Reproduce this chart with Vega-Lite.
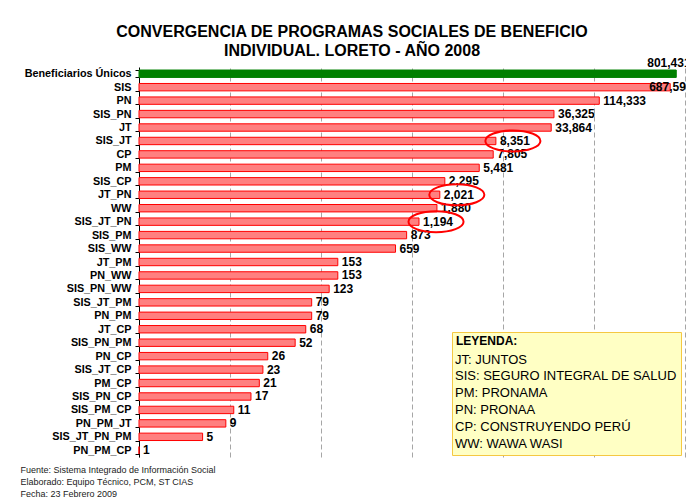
{
  "$schema": "https://vega.github.io/schema/vega-lite/v6.json",
  "width": 546,
  "height": 390,
  "autosize": {"type": "none"},
  "padding": {"left": 139, "top": 67, "right": 1, "bottom": 45},
  "background": "white",
  "config": {"font": "Liberation Sans", "view": {"stroke": null}},
  "title": {
    "text": ["CONVERGENCIA DE PROGRAMAS SOCIALES DE BENEFICIO", "INDIVIDUAL. LORETO - AÑO 2008"],
    "fontSize": 16,
    "fontWeight": "bold",
    "lineHeight": 19,
    "anchor": "middle",
    "frame": "group",
    "dx": -60,
    "offset": -2,
    "color": "#000000"
  },
  "data": {
    "values": [
      {"programa": "Beneficiarios Únicos", "beneficiarios": 801431},
      {"programa": "SIS", "beneficiarios": 687592},
      {"programa": "PN", "beneficiarios": 114333},
      {"programa": "SIS_PN", "beneficiarios": 36325},
      {"programa": "JT", "beneficiarios": 33864},
      {"programa": "SIS_JT", "beneficiarios": 8351},
      {"programa": "CP", "beneficiarios": 7805},
      {"programa": "PM", "beneficiarios": 5481},
      {"programa": "SIS_CP", "beneficiarios": 2295},
      {"programa": "JT_PN", "beneficiarios": 2021},
      {"programa": "WW", "beneficiarios": 1880},
      {"programa": "SIS_JT_PN", "beneficiarios": 1194},
      {"programa": "SIS_PM", "beneficiarios": 873},
      {"programa": "SIS_WW", "beneficiarios": 659},
      {"programa": "JT_PM", "beneficiarios": 153},
      {"programa": "PN_WW", "beneficiarios": 153},
      {"programa": "SIS_PN_WW", "beneficiarios": 123},
      {"programa": "SIS_JT_PM", "beneficiarios": 79},
      {"programa": "PN_PM", "beneficiarios": 79},
      {"programa": "JT_CP", "beneficiarios": 68},
      {"programa": "SIS_PN_PM", "beneficiarios": 52},
      {"programa": "PN_CP", "beneficiarios": 26},
      {"programa": "SIS_JT_CP", "beneficiarios": 23},
      {"programa": "PM_CP", "beneficiarios": 21},
      {"programa": "SIS_PN_CP", "beneficiarios": 17},
      {"programa": "SIS_PM_CP", "beneficiarios": 11},
      {"programa": "PN_PM_JT", "beneficiarios": 9},
      {"programa": "SIS_JT_PN_PM", "beneficiarios": 5},
      {"programa": "PN_PM_CP", "beneficiarios": 1}
    ]
  },
  "layer": [
    {
      "mark": {"type": "bar", "strokeWidth": 1},
      "encoding": {
        "y": {
          "field": "programa", "type": "nominal", "sort": null,
          "scale": {"paddingInner": 0.45, "paddingOuter": 0.225},
          "axis": {
            "title": null, "labelFontSize": 10.8, "labelFontWeight": "bold", "labelColor": "#000000",
            "domainColor": "#000000", "tickColor": "#000000", "tickSize": 4, "tickBand": "extent",
            "labelPadding": 4, "grid": false, "labelLimit": 200
          }
        },
        "x": {
          "field": "beneficiarios", "type": "quantitative",
          "scale": {"type": "log", "domain": [1, 1000000], "nice": false},
          "axis": {
            "title": ["Fuente: Sistema Integrado de Información Social", "Elaborado: Equipo Técnico, PCM, ST CIAS", "Fecha: 23 Febrero 2009"],
            "labels": false, "ticks": false, "domain": false,
            "grid": true, "gridColor": "#A6A6A6", "gridDash": [5, 3], "gridWidth": 1,
            "values": [1, 10, 100, 1000, 10000, 100000, 1000000],
            "titleFontSize": 9, "titleFontWeight": "normal", "titleColor": "#222222",
            "titleAnchor": "start", "titleAlign": "left", "titleBaseline": "top",
            "titleX": -119, "titleY": 8, "titleLineHeight": 12
          }
        },
        "x2": {"datum": 1},
        "color": {
          "condition": {"test": "datum.programa === 'Beneficiarios Únicos'", "value": "#008000"},
          "value": "#FF8080"
        },
        "stroke": {
          "condition": {"test": "datum.programa === 'Beneficiarios Únicos'", "value": "#008000"},
          "value": "#FF0000"
        }
      }
    },
    {
      "transform": [{"filter": "datum.programa !== 'Beneficiarios Únicos' && datum.programa !== 'SIS'"}],
      "mark": {"type": "text", "align": "left", "baseline": "middle", "dx": 4, "fontSize": 12, "fontWeight": "bold", "color": "#000000"},
      "encoding": {
        "y": {"field": "programa", "type": "nominal", "sort": null},
        "x": {"field": "beneficiarios", "type": "quantitative"},
        "text": {"field": "beneficiarios", "type": "quantitative", "format": ","}
      }
    },
    {
      "transform": [{"filter": "datum.programa === 'SIS'"}],
      "mark": {"type": "text", "align": "left", "baseline": "middle", "dx": -21, "fontSize": 12, "fontWeight": "bold", "color": "#000000"},
      "encoding": {
        "y": {"field": "programa", "type": "nominal", "sort": null},
        "x": {"field": "beneficiarios", "type": "quantitative"},
        "text": {"field": "beneficiarios", "type": "quantitative", "format": ","}
      }
    },
    {
      "transform": [{"filter": "datum.programa === 'Beneficiarios Únicos'"}],
      "mark": {"type": "text", "align": "left", "baseline": "middle", "dx": -29, "dy": -11, "fontSize": 12, "fontWeight": "bold", "color": "#000000"},
      "encoding": {
        "y": {"field": "programa", "type": "nominal", "sort": null},
        "x": {"field": "beneficiarios", "type": "quantitative"},
        "text": {"field": "beneficiarios", "type": "quantitative", "format": ","}
      }
    },
    {
      "transform": [{"filter": {"field": "programa", "oneOf": ["SIS_JT", "JT_PN", "SIS_JT_PN"]}}],
      "mark": {
        "type": "point", "filled": false, "stroke": "#FF0000", "strokeWidth": 2, "opacity": 1,
        "shape": "M-0.78,0 A2.04,0.78 0 1,0 3.3,0 A2.04,0.78 0 1,0 -0.78,0 Z",
        "size": 729
      },
      "encoding": {
        "y": {"field": "programa", "type": "nominal", "sort": null},
        "x": {"field": "beneficiarios", "type": "quantitative"}
      }
    },
    {
      "data": {
        "values": [
          {"leyenda": "JT: JUNTOS"},
          {"leyenda": "SIS: SEGURO INTEGRAL DE SALUD"},
          {"leyenda": "PM: PRONAMA"},
          {"leyenda": "PN: PRONAA"},
          {"leyenda": "CP: CONSTRUYENDO PERÚ"},
          {"leyenda": "WW: WAWA WASI"}
        ]
      },
      "mark": {"type": "point", "opacity": 0},
      "encoding": {
        "shape": {
          "field": "leyenda", "type": "nominal", "sort": null, "title": "LEYENDA:",
          "legend": {
            "orient": "none", "legendX": 313, "legendY": 265,
            "fillColor": "#FFFFC4", "strokeColor": "#F5C842", "padding": 4,
            "titleFontSize": 12, "titleFontWeight": "bold", "titleColor": "#000000", "titlePadding": 5,
            "labelFontSize": 13, "labelColor": "#000000", "labelLimit": 300, "labelOffset": -14,
            "rowPadding": 2.9, "symbolSize": 0, "symbolStrokeWidth": 0, "symbolOpacity": 0
          }
        }
      }
    }
  ]
}
